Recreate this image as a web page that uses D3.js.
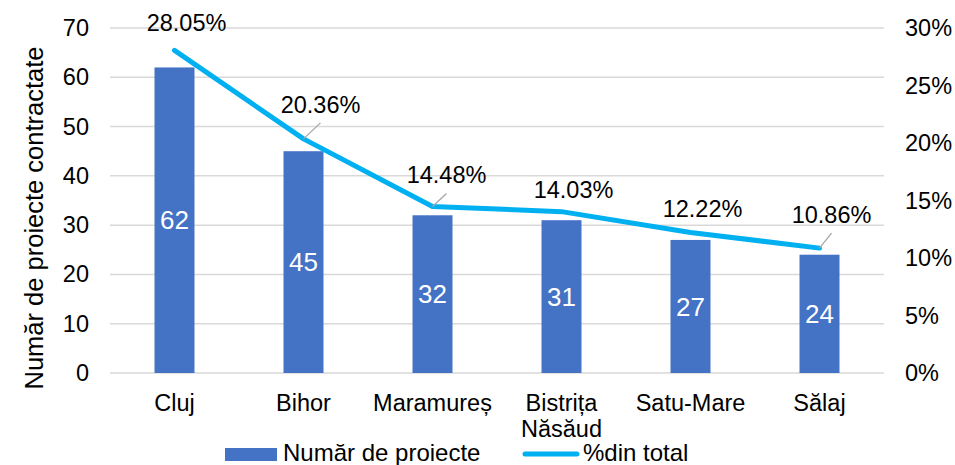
<!DOCTYPE html>
<html>
<head>
<meta charset="utf-8">
<script src="https://cdn.jsdelivr.net/npm/d3@7"></script>
<style>
  html, body { margin: 0; padding: 0; background: #fff; }
  svg { display: block; font-family: "Liberation Sans", Arial, sans-serif; }
</style>
</head>
<body>
<svg id="chart" width="955" height="465"></svg>
<script>
const categories = ["Cluj", "Bihor", "Maramureș", "Bistrița Năsăud", "Satu-Mare", "Sălaj"];
const projectCounts = [62, 45, 32, 31, 27, 24];
const percentOfTotal = [28.05, 20.36, 14.48, 14.03, 12.22, 10.86];
const leftTicks = [0, 10, 20, 30, 40, 50, 60, 70];
const rightTicks = [0, 5, 10, 15, 20, 25, 30];
const seriesNames = ["Număr de proiecte", "%din total"];
const yAxisTitle = "Număr de proiecte contractate";

(function () {
const svg = d3.select("#chart");
const plotLeft = 110, plotRight = 884, plotTop = 28, plotBottom = 373;
const barColor = "#4472C4", lineColor = "#00B0F0", gridColor = "#d9d9d9";
const fs = "23.5px";

const x = d3.scaleBand().domain(categories).range([plotLeft, plotRight]).paddingInner(0.69).paddingOuter(0.345);
const yL = d3.scaleLinear().domain([0, 70]).range([plotBottom, plotTop]);
const yR = d3.scaleLinear().domain([0, 30]).range([plotBottom, plotTop]);

// gridlines
svg.append("g").selectAll("line").data(leftTicks).join("line")
  .attr("x1", plotLeft).attr("x2", plotRight)
  .attr("y1", d => yL(d)).attr("y2", d => yL(d))
  .attr("stroke", gridColor).attr("stroke-width", 1.5);

// left axis
const gL = svg.append("g").attr("transform", `translate(${plotLeft},0)`)
  .call(d3.axisLeft(yL).tickValues(leftTicks).tickSize(0).tickPadding(21));
gL.select(".domain").remove();
gL.selectAll("text").attr("font-size", fs).attr("fill", "#000").attr("font-family", "Liberation Sans, Arial, sans-serif");

// right axis
const gR = svg.append("g").attr("transform", `translate(${plotRight},0)`)
  .call(d3.axisRight(yR).tickValues(rightTicks).tickSize(0).tickPadding(21).tickFormat(d => d + "%"));
gR.select(".domain").remove();
gR.selectAll("text").attr("font-size", fs).attr("fill", "#000").attr("font-family", "Liberation Sans, Arial, sans-serif");

// bars
svg.append("g").selectAll("rect").data(categories).join("rect")
  .attr("x", d => x(d)).attr("width", x.bandwidth())
  .attr("y", (d, i) => yL(projectCounts[i]))
  .attr("height", (d, i) => yL(0) - yL(projectCounts[i]))
  .attr("fill", barColor);

// bar labels
svg.append("g").selectAll("text").data(categories).join("text")
  .attr("x", d => x(d) + x.bandwidth() / 2)
  .attr("y", (d, i) => (yL(projectCounts[i]) + yL(0)) / 2)
  .attr("dy", "0.35em")
  .attr("text-anchor", "middle")
  .attr("font-size", "26px").attr("fill", "#fff")
  .text((d, i) => projectCounts[i]);

// category labels
const catG = svg.append("g");
categories.forEach(c => {
  const parts = c === "Bistrița Năsăud" ? ["Bistrița", "Năsăud"] : [c];
  const t = catG.append("text")
    .attr("x", x(c) + x.bandwidth() / 2)
    .attr("y", 411)
    .attr("text-anchor", "middle")
    .attr("font-size", fs).attr("fill", "#000");
  parts.forEach((p, j) => {
    t.append("tspan").attr("x", x(c) + x.bandwidth() / 2).attr("dy", j === 0 ? 0 : 26).text(p);
  });
});

// line
const cx = i => x(categories[i]) + x.bandwidth() / 2;
const line = d3.line().x((d, i) => cx(i)).y(d => yR(d));
svg.append("path").datum(percentOfTotal)
  .attr("d", line)
  .attr("fill", "none").attr("stroke", lineColor)
  .attr("stroke-width", 5).attr("stroke-linejoin", "round").attr("stroke-linecap", "round");

// percent labels (label offsets relative to points)
const lblDx = [12, 17, 14, 12, 12, 12];
const lblDy = [-19, -26, -23, -14, -15, -25];
const leaders = [false, true, true, false, false, true];
const lab = svg.append("g");
percentOfTotal.forEach((v, i) => {
  const px = cx(i), py = yR(v);
  if (leaders[i]) {
    lab.append("line")
      .attr("x1", px).attr("y1", py)
      .attr("x2", px + lblDx[i]).attr("y2", py + lblDy[i] + 10)
      .attr("stroke", "#a6a6a6").attr("stroke-width", 1.3);
  }
  lab.append("text")
    .attr("x", px + lblDx[i]).attr("y", py + lblDy[i])
    .attr("text-anchor", "middle")
    .attr("font-size", fs).attr("fill", "#000")
    .text(v.toFixed(2) + "%");
});

// y axis title
svg.append("text")
  .attr("transform", "translate(43,218) rotate(-90)")
  .attr("text-anchor", "middle")
  .attr("font-size", "25.5px").attr("fill", "#000")
  .text(yAxisTitle);

// legend
const lg = svg.append("g");
lg.append("rect").attr("x", 225).attr("y", 448).attr("width", 52).attr("height", 13).attr("fill", barColor);
lg.append("text").attr("x", 283).attr("y", 461).attr("font-size", "24px").attr("fill", "#000").text(seriesNames[0]);
lg.append("line").attr("x1", 525).attr("x2", 577).attr("y1", 454).attr("y2", 454)
  .attr("stroke", lineColor).attr("stroke-width", 5).attr("stroke-linecap", "round");
lg.append("text").attr("x", 583).attr("y", 461).attr("font-size", "24px").attr("fill", "#000").text(seriesNames[1]);
})();
</script>
</body>
</html>
